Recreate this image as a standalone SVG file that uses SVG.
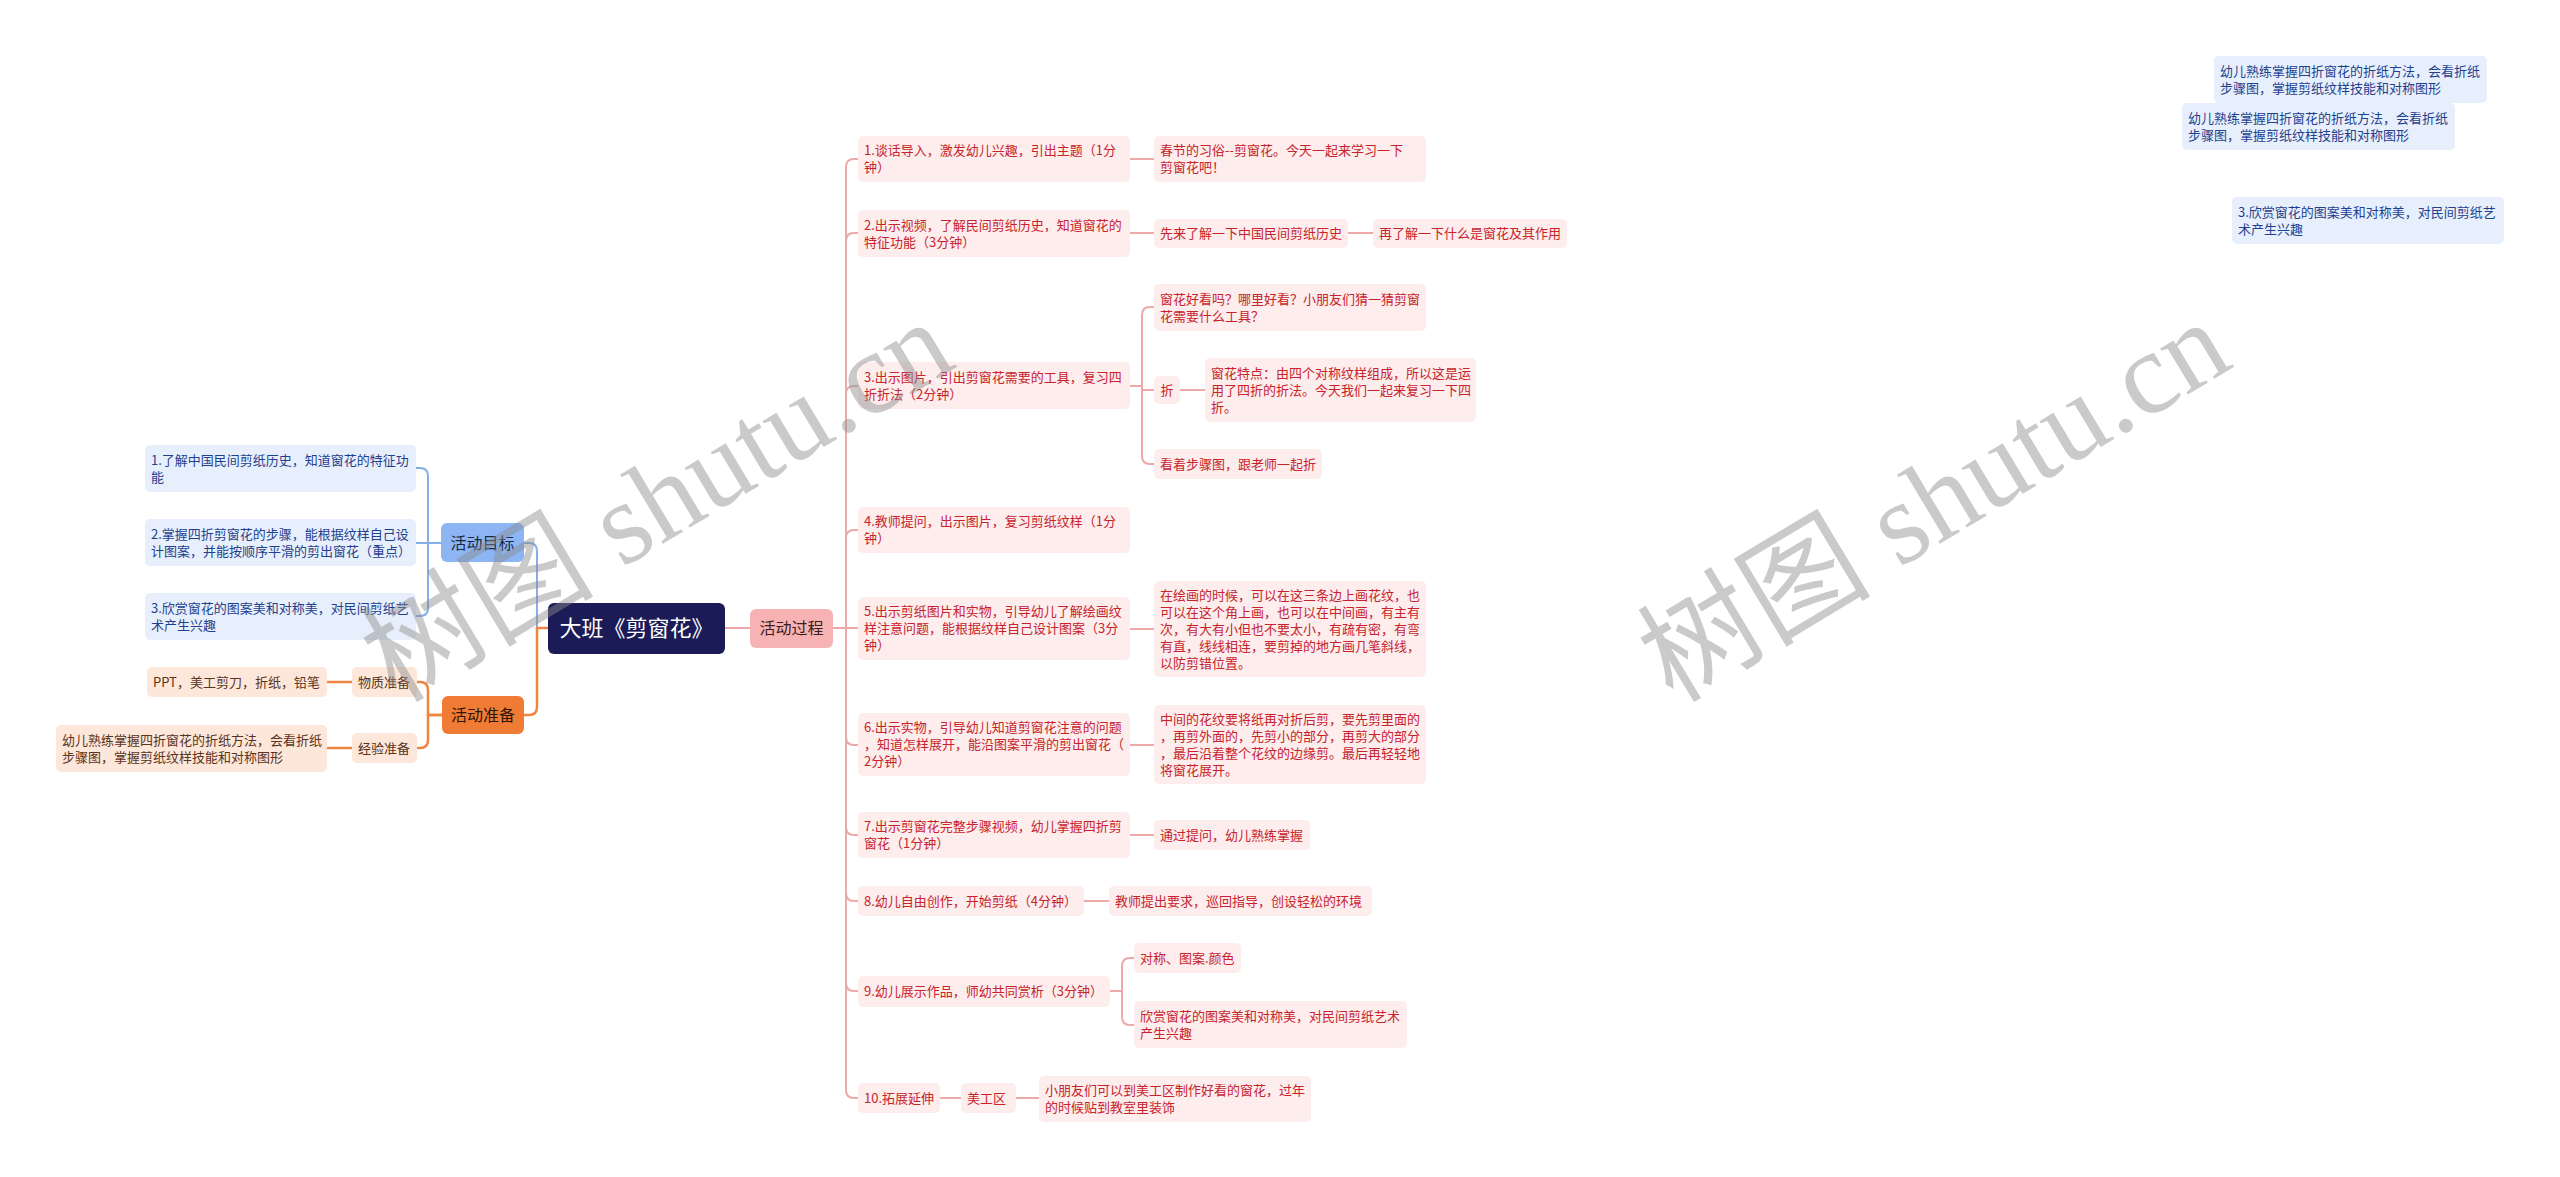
<svg xmlns="http://www.w3.org/2000/svg" width="2560" height="1177" viewBox="0 0 2560 1177">
<style>
text{font-family:"Noto Sans CJK SC","Noto Sans",sans-serif;}
.t13{font-size:13px;}
.lb{fill:#e7effc;}
.lo{fill:#fde7da;}
.lp{fill:#fdeded;}
.tb{fill:#1f3f8f;}
.to{fill:#5a3320;}
.tp{fill:#c8232c;}
.cb{fill:none;stroke:#86aee8;stroke-width:2;}
.co{fill:none;stroke:#ef8540;stroke-width:2.5;}
.cp{fill:none;stroke:#eda9a9;stroke-width:2;}
.wm{font-family:"Liberation Serif","Noto Sans CJK SC",serif;font-size:117px;fill:#8c8c8c;opacity:0.45;}
</style>
<rect width="2560" height="1177" fill="#ffffff"/>

<g id="connectors">
  <path class="cb" d="M548,628 H537 V551 Q537,543 529,543 H524"/>
  <path class="co" d="M548,628 H537 V707 Q537,715 529,715 H524"/>
  <path class="cp" d="M725,628 H750"/>
  <path class="cb" d="M441,543 H428 V476 Q428,468 420,468 H416"/>
  <path class="cb" d="M441,543 H416"/>
  <path class="cb" d="M441,543 H428 V608 Q428,616 420,616 H416"/>
  <path class="co" d="M442,715 H428 V690 Q428,682 420,682 H417"/>
  <path class="co" d="M442,715 H428 V740 Q428,748 420,748 H417"/>
  <path class="co" d="M352,682 H327"/>
  <path class="co" d="M352,748 H327"/>
  <path class="cp" d="M833,628 H846 V167 Q846,159 854,159 H858"/>
  <path class="cp" d="M833,628 H846 V241 Q846,233 854,233 H858"/>
  <path class="cp" d="M833,628 H846 V394 Q846,386 854,386 H858"/>
  <path class="cp" d="M833,628 H846 V538 Q846,530 854,530 H858"/>
  <path class="cp" d="M833,628 H858"/>
  <path class="cp" d="M833,628 H846 V737 Q846,745 854,745 H858"/>
  <path class="cp" d="M833,628 H846 V827 Q846,835 854,835 H858"/>
  <path class="cp" d="M833,628 H846 V893 Q846,901 854,901 H858"/>
  <path class="cp" d="M833,628 H846 V983 Q846,991 854,991 H858"/>
  <path class="cp" d="M833,628 H846 V1090 Q846,1098 854,1098 H858"/>
  <path class="cp" d="M1130,159 H1154"/>
  <path class="cp" d="M1130,233 H1154"/>
  <path class="cp" d="M1348,233 H1373"/>
  <path class="cp" d="M1130,386 H1142 V315 Q1142,307 1150,307 H1154"/>
  <path class="cp" d="M1130,386 H1142 V390 H1154"/>
  <path class="cp" d="M1130,386 H1142 V456 Q1142,464 1150,464 H1154"/>
  <path class="cp" d="M1180,390 H1205"/>
  <path class="cp" d="M1130,629 H1154"/>
  <path class="cp" d="M1130,745 H1154"/>
  <path class="cp" d="M1130,835 H1154"/>
  <path class="cp" d="M1084,901 H1109"/>
  <path class="cp" d="M1110,991 H1122 V966 Q1122,958 1130,958 H1134"/>
  <path class="cp" d="M1110,991 H1122 V1017 Q1122,1025 1130,1025 H1134"/>
  <path class="cp" d="M940,1098 H961"/>
  <path class="cp" d="M1016,1098 H1039"/>
</g>

<g id="root">
  <rect x="548" y="603" width="177" height="51" rx="6" fill="#1b1b58"/>
  <text x="636.5" y="636" font-size="22" fill="#ffffff" text-anchor="middle">大班《剪窗花》</text>
</g>

<g id="goal">
  <rect x="441" y="523" width="83" height="39" rx="6" fill="#8db5f4"/>
  <text x="482.5" y="548.5" font-size="16" fill="#1c2740" text-anchor="middle">活动目标</text>
</g>
<g id="prep">
  <rect x="442" y="696" width="82" height="38" rx="6" fill="#f07b35"/>
  <text x="483" y="720.5" font-size="16" fill="#2d1608" text-anchor="middle">活动准备</text>
</g>
<g id="process">
  <rect x="750" y="609" width="83" height="39" rx="6" fill="#f7b3b3"/>
  <text x="791.5" y="634" font-size="16" fill="#3a2020" text-anchor="middle">活动过程</text>
</g>

<g id="goal1">
  <rect class="lb" x="145" y="445" width="271" height="47" rx="5"/>
  <text class="t13 tb" x="151" y="464.7">1.了解中国民间剪纸历史，知道窗花的特征功</text>
  <text class="t13 tb" x="151" y="481.7">能</text>
</g>
<g id="goal2">
  <rect class="lb" x="145" y="519" width="271" height="47" rx="5"/>
  <text class="t13 tb" x="151" y="538.7">2.掌握四折剪窗花的步骤，能根据纹样自己设</text>
  <text class="t13 tb" x="151" y="555.7">计图案，并能按顺序平滑的剪出窗花（重点）</text>
</g>
<g id="goal3">
  <rect class="lb" x="145" y="593" width="271" height="47" rx="5"/>
  <text class="t13 tb" x="151" y="612.7">3.欣赏窗花的图案美和对称美，对民间剪纸艺</text>
  <text class="t13 tb" x="151" y="629.7">术产生兴趣</text>
</g>

<g id="prep-material">
  <rect class="lo" x="352" y="667" width="65" height="30" rx="5"/>
  <text class="t13 to" x="358" y="686.7">物质准备</text>
</g>
<g id="prep-material-1">
  <rect class="lo" x="147" y="667" width="180" height="30" rx="5"/>
  <text class="t13 to" x="153" y="686.7">PPT，美工剪刀，折纸，铅笔</text>
</g>
<g id="prep-exp">
  <rect class="lo" x="352" y="733" width="65" height="30" rx="5"/>
  <text class="t13 to" x="358" y="752.7">经验准备</text>
</g>
<g id="prep-exp-1">
  <rect class="lo" x="56" y="725" width="271" height="47" rx="5"/>
  <text class="t13 to" x="62" y="744.7">幼儿熟练掌握四折窗花的折纸方法，会看折纸</text>
  <text class="t13 to" x="62" y="761.7">步骤图，掌握剪纸纹样技能和对称图形</text>
</g>

<g id="p1">
  <rect class="lp" x="858" y="136" width="272" height="46" rx="5"/>
  <text class="t13 tp" x="864" y="155.2">1.谈话导入，激发幼儿兴趣，引出主题（1分</text>
  <text class="t13 tp" x="864" y="172.2">钟）</text>
</g>
<g id="p1-1">
  <rect class="lp" x="1154" y="136" width="272" height="46" rx="5"/>
  <text class="t13 tp" x="1160" y="155.2">春节的习俗--剪窗花。今天一起来学习一下</text>
  <text class="t13 tp" x="1160" y="172.2">剪窗花吧！</text>
</g>
<g id="p2">
  <rect class="lp" x="858" y="210" width="272" height="47" rx="5"/>
  <text class="t13 tp" x="864" y="229.7">2.出示视频，了解民间剪纸历史，知道窗花的</text>
  <text class="t13 tp" x="864" y="246.7">特征功能（3分钟）</text>
</g>
<g id="p2-1">
  <rect class="lp" x="1154" y="219" width="194" height="29" rx="5"/>
  <text class="t13 tp" x="1160" y="238.2">先来了解一下中国民间剪纸历史</text>
</g>
<g id="p2-2">
  <rect class="lp" x="1373" y="219" width="194" height="29" rx="5"/>
  <text class="t13 tp" x="1379" y="238.2">再了解一下什么是窗花及其作用</text>
</g>
<g id="p3">
  <rect class="lp" x="858" y="362" width="272" height="47" rx="5"/>
  <text class="t13 tp" x="864" y="381.7">3.出示图片，引出剪窗花需要的工具，复习四</text>
  <text class="t13 tp" x="864" y="398.7">折折法（2分钟）</text>
</g>
<g id="p3-1">
  <rect class="lp" x="1154" y="284" width="272" height="47" rx="5"/>
  <text class="t13 tp" x="1160" y="303.7">窗花好看吗？哪里好看？小朋友们猜一猜剪窗</text>
  <text class="t13 tp" x="1160" y="320.7">花需要什么工具？</text>
</g>
<g id="p3-2">
  <rect class="lp" x="1154" y="376" width="26" height="28" rx="5"/>
  <text class="t13 tp" x="1167" y="394.7" text-anchor="middle">折</text>
</g>
<g id="p3-2-1">
  <rect class="lp" x="1205" y="358" width="271" height="64" rx="5"/>
  <text class="t13 tp" x="1211" y="377.7">窗花特点：由四个对称纹样组成，所以这是运</text>
  <text class="t13 tp" x="1211" y="394.7">用了四折的折法。今天我们一起来复习一下四</text>
  <text class="t13 tp" x="1211" y="411.7">折。</text>
</g>
<g id="p3-3">
  <rect class="lp" x="1154" y="449" width="168" height="30" rx="5"/>
  <text class="t13 tp" x="1160" y="468.7">看着步骤图，跟老师一起折</text>
</g>
<g id="p4">
  <rect class="lp" x="858" y="507" width="272" height="46" rx="5"/>
  <text class="t13 tp" x="864" y="526.2">4.教师提问，出示图片，复习剪纸纹样（1分</text>
  <text class="t13 tp" x="864" y="543.2">钟）</text>
</g>
<g id="p5">
  <rect class="lp" x="858" y="597" width="272" height="63" rx="5"/>
  <text class="t13 tp" x="864" y="616.2">5.出示剪纸图片和实物，引导幼儿了解绘画纹</text>
  <text class="t13 tp" x="864" y="633.2">样注意问题，能根据纹样自己设计图案（3分</text>
  <text class="t13 tp" x="864" y="650.2">钟）</text>
</g>
<g id="p5-1">
  <rect class="lp" x="1154" y="581" width="272" height="96" rx="5"/>
  <text class="t13 tp" x="1160" y="599.7">在绘画的时候，可以在这三条边上画花纹，也</text>
  <text class="t13 tp" x="1160" y="616.7">可以在这个角上画，也可以在中间画，有主有</text>
  <text class="t13 tp" x="1160" y="633.7">次，有大有小但也不要太小，有疏有密，有弯</text>
  <text class="t13 tp" x="1160" y="650.7">有直，线线相连，要剪掉的地方画几笔斜线，</text>
  <text class="t13 tp" x="1160" y="667.7">以防剪错位置。</text>
</g>
<g id="p6">
  <rect class="lp" x="858" y="713" width="272" height="63" rx="5"/>
  <text class="t13 tp" x="864" y="732.2">6.出示实物，引导幼儿知道剪窗花注意的问题</text>
  <text class="t13 tp" x="864" y="749.2">，知道怎样展开，能沿图案平滑的剪出窗花（</text>
  <text class="t13 tp" x="864" y="766.2">2分钟）</text>
</g>
<g id="p6-1">
  <rect class="lp" x="1154" y="705" width="272" height="79" rx="5"/>
  <text class="t13 tp" x="1160" y="723.7">中间的花纹要将纸再对折后剪，要先剪里面的</text>
  <text class="t13 tp" x="1160" y="740.7">，再剪外面的，先剪小的部分，再剪大的部分</text>
  <text class="t13 tp" x="1160" y="757.7">，最后沿着整个花纹的边缘剪。最后再轻轻地</text>
  <text class="t13 tp" x="1160" y="774.7">将窗花展开。</text>
</g>
<g id="p7">
  <rect class="lp" x="858" y="812" width="272" height="46" rx="5"/>
  <text class="t13 tp" x="864" y="831.2">7.出示剪窗花完整步骤视频，幼儿掌握四折剪</text>
  <text class="t13 tp" x="864" y="848.2">窗花（1分钟）</text>
</g>
<g id="p7-1">
  <rect class="lp" x="1154" y="820" width="156" height="30" rx="5"/>
  <text class="t13 tp" x="1160" y="839.7">通过提问，幼儿熟练掌握</text>
</g>
<g id="p8">
  <rect class="lp" x="858" y="886" width="226" height="30" rx="5"/>
  <text class="t13 tp" x="864" y="905.7">8.幼儿自由创作，开始剪纸（4分钟）</text>
</g>
<g id="p8-1">
  <rect class="lp" x="1109" y="886" width="263" height="30" rx="5"/>
  <text class="t13 tp" x="1115" y="905.7">教师提出要求，巡回指导，创设轻松的环境</text>
</g>
<g id="p9">
  <rect class="lp" x="858" y="976" width="252" height="31" rx="5"/>
  <text class="t13 tp" x="864" y="996.2">9.幼儿展示作品，师幼共同赏析（3分钟）</text>
</g>
<g id="p9-1">
  <rect class="lp" x="1134" y="943" width="107" height="30" rx="5"/>
  <text class="t13 tp" x="1140" y="962.7">对称、图案.颜色</text>
</g>
<g id="p9-2">
  <rect class="lp" x="1134" y="1001" width="273" height="47" rx="5"/>
  <text class="t13 tp" x="1140" y="1020.7">欣赏窗花的图案美和对称美，对民间剪纸艺术</text>
  <text class="t13 tp" x="1140" y="1037.7">产生兴趣</text>
</g>
<g id="p10">
  <rect class="lp" x="858" y="1083" width="82" height="30" rx="5"/>
  <text class="t13 tp" x="864" y="1102.7">10.拓展延伸</text>
</g>
<g id="p10-1">
  <rect class="lp" x="961" y="1083" width="55" height="30" rx="5"/>
  <text class="t13 tp" x="967" y="1102.7">美工区</text>
</g>
<g id="p10-1-1">
  <rect class="lp" x="1039" y="1076" width="272" height="46" rx="5"/>
  <text class="t13 tp" x="1045" y="1095.2">小朋友们可以到美工区制作好看的窗花，过年</text>
  <text class="t13 tp" x="1045" y="1112.2">的时候贴到教室里装饰</text>
</g>

<g id="float1">
  <rect class="lb" x="2214" y="56" width="273" height="47" rx="5"/>
  <text class="t13 tb" x="2220" y="75.7">幼儿熟练掌握四折窗花的折纸方法，会看折纸</text>
  <text class="t13 tb" x="2220" y="92.7">步骤图，掌握剪纸纹样技能和对称图形</text>
</g>
<g id="float2">
  <rect class="lb" x="2182" y="103" width="273" height="47" rx="5"/>
  <text class="t13 tb" x="2188" y="122.7">幼儿熟练掌握四折窗花的折纸方法，会看折纸</text>
  <text class="t13 tb" x="2188" y="139.7">步骤图，掌握剪纸纹样技能和对称图形</text>
</g>
<g id="float3">
  <rect class="lb" x="2232" y="197" width="272" height="47" rx="5"/>
  <text class="t13 tb" x="2238" y="216.7">3.欣赏窗花的图案美和对称美，对民间剪纸艺</text>
  <text class="t13 tb" x="2238" y="233.7">术产生兴趣</text>
</g>

<g id="watermark">
  <text class="wm" transform="translate(396,704) rotate(-31)">树图 shutu.cn</text>
  <text class="wm" transform="translate(1673,704) rotate(-31)">树图 shutu.cn</text>
</g>
</svg>
